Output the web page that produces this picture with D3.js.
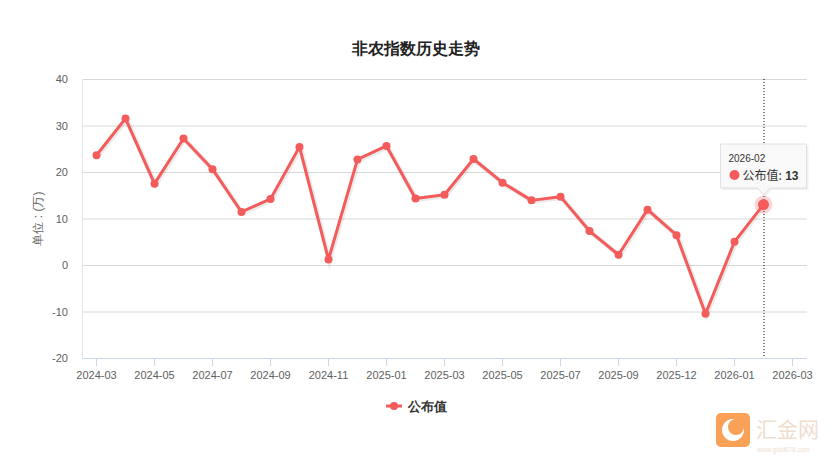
<!DOCTYPE html>
<html><head><meta charset="utf-8">
<script src="https://cdn.jsdelivr.net/npm/d3@7/dist/d3.min.js"></script>
<style>body{margin:0;background:#fff;}svg{display:block;font-family:"Liberation Sans",Arial,sans-serif;}</style>
</head><body>
<svg id="c" width="837" height="470"></svg>
<script>
const categories = ["2024-03","2024-04","2024-05","2024-06","2024-07","2024-08","2024-09","2024-10","2024-11","2024-12","2025-01","2025-02","2025-03","2025-04","2025-05","2025-06","2025-07","2025-08","2025-09","2025-11","2025-12","2025-12","2026-01","2026-02","2026-03"];
const values = [23.6,31.5,17.5,27.2,20.6,11.4,14.2,25.4,1.2,22.7,25.6,14.3,15.1,22.8,17.7,13.9,14.7,7.3,2.2,11.9,6.4,-10.5,5.0,13.0];
const yTicks = [-20,-10,0,10,20,30,40];
const seriesName = "公布值";
const title = "非农指数历史走势";
const yTitle = "单位 : (万)";
const highlight = 23;

const svg = d3.select("#c");
const L = 82, R = 807, T = 79, B = 358;
const x = d3.scaleBand().domain(d3.range(categories.length)).range([L, R]);
const cx = i => x(i) + x.bandwidth()/2;
const y = d3.scaleLinear().domain([-20, 40]).range([B, T]);
const red = "#f45b5b";

svg.append("text").attr("x", 416).attr("y", 54).attr("text-anchor","middle")
  .attr("font-size", 16).attr("font-weight","bold").attr("fill","#222").text(title);

// grid
svg.append("g").selectAll("line").data(yTicks.filter(d=>d>-20)).join("line")
  .attr("x1", L).attr("x2", R).attr("y1", d=>y(d)+0.5).attr("y2", d=>y(d)+0.5)
  .attr("stroke","#d8d8d8");

// y axis
const ya = svg.append("g").attr("transform",`translate(${L},0)`)
  .call(d3.axisLeft(y).tickValues(yTicks).tickFormat(d=>String(d)).tickSize(0).tickPadding(14));
ya.select(".domain").attr("stroke","#dfe6f0").attr("d",`M0.5,${T}V${B}`);
ya.selectAll("text").attr("font-size",11).attr("fill","#606060").attr("font-family","Liberation Sans, Arial, sans-serif");

// x axis
const xa = svg.append("g").attr("transform",`translate(0,${B})`)
  .call(d3.axisBottom(x).tickValues(d3.range(0, categories.length, 2)).tickFormat(i=>categories[i]).tickSize(8).tickPadding(5));
xa.select(".domain").attr("stroke","#ccd6eb").attr("d",`M${L},0.5H${R}`);
xa.selectAll(".tick line").attr("stroke","#ccd6eb");
xa.selectAll("text").attr("font-size",11).attr("fill","#606060").attr("font-family","Liberation Sans, Arial, sans-serif");

svg.append("text").attr("transform",`translate(42,${(T+B)/2}) rotate(-90)`).attr("text-anchor","middle")
  .attr("font-size",12).attr("fill","#666").text(yTitle);

// crosshair
svg.append("line").attr("x1", cx(highlight)+0.5).attr("x2", cx(highlight)+0.5).attr("y1", T).attr("y2", B)
  .attr("stroke","#000").attr("stroke-dasharray","1,2");

// line
const line = d3.line().x((d,i)=>cx(i)).y(d=>y(d));
svg.append("path").datum(values).attr("d", line).attr("fill","none").attr("stroke","rgba(0,0,0,0.08)")
  .attr("stroke-width",5).attr("transform","translate(1,1)");
svg.append("path").datum(values).attr("d", line).attr("fill","none").attr("stroke",red).attr("stroke-width",3).attr("stroke-linejoin","round");
svg.append("g").selectAll("circle").data(values).join("circle")
  .attr("cx",(d,i)=>cx(i)).attr("cy",d=>y(d)).attr("r",4).attr("fill",red);
svg.append("circle").attr("cx",cx(highlight)).attr("cy",y(values[highlight])).attr("r",9).attr("fill",red).attr("fill-opacity",0.25);
svg.append("circle").attr("cx",cx(highlight)).attr("cy",y(values[highlight])).attr("r",5.5).attr("fill",red);

// tooltip
const tx = cx(highlight), tb = 188;
const tt = svg.append("g");
const tipPath = `M${tx-43},${tb-44}H${tx+43}V${tb}H${tx+6}L${tx},${tb+7}L${tx-6},${tb}H${tx-43}Z`;
tt.append("path").attr("d",tipPath).attr("fill","rgba(0,0,0,0.06)").attr("transform","translate(2,2)");
tt.append("path").attr("d",tipPath).attr("fill","rgba(249,249,249,0.97)").attr("stroke","#e0e0e0");
tt.append("text").attr("x",tx-35).attr("y",tb-26).attr("font-size",10).attr("fill","#333").text(categories[highlight]);
tt.append("circle").attr("cx",tx-29).attr("cy",tb-13).attr("r",5).attr("fill",red);
const t2 = tt.append("text").attr("x",tx-21).attr("y",tb-8.5).attr("font-size",12).attr("fill","#333");
t2.append("tspan").attr("font-family","Noto Sans CJK SC").text(seriesName + ":");
t2.append("tspan").attr("font-weight","bold").text(" " + values[highlight]);

// legend
svg.append("line").attr("x1",386).attr("x2",402).attr("y1",406).attr("y2",406).attr("stroke",red).attr("stroke-width",3);
svg.append("circle").attr("cx",394).attr("cy",406).attr("r",4).attr("fill",red);
svg.append("text").attr("x",408).attr("y",411).attr("font-size",13).attr("font-weight","bold").attr("fill","#333").text(seriesName);

// watermark
const wm = svg.append("g").attr("opacity",0.85);
wm.append("rect").attr("x",716).attr("y",413).attr("width",34).attr("height",34).attr("rx",5).attr("fill","#f7913a");
wm.append("circle").attr("cx",733).attr("cy",430).attr("r",11).attr("fill","#fff");
wm.append("circle").attr("cx",736).attr("cy",427).attr("r",8).attr("fill","#f7913a");
wm.append("text").attr("x",756).attr("y",437).attr("font-size",21).attr("fill","#ecd9c6").attr("font-family","Noto Sans CJK SC").text("汇金网");
wm.append("text").attr("x",757).attr("y",452).attr("font-size",6.5).attr("fill","#ecd9c6").text("www.gold678.com");
</script>
</body></html>
